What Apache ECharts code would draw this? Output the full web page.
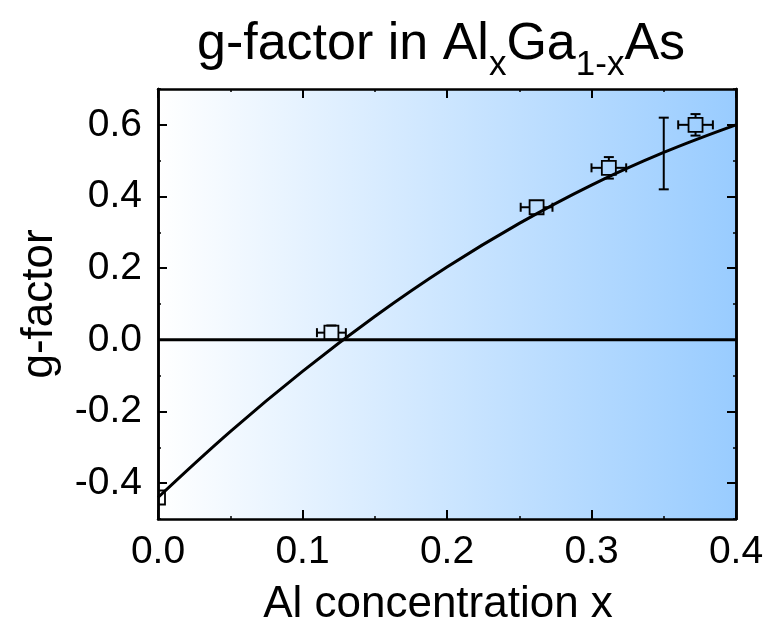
<!DOCTYPE html>
<html>
<head>
<meta charset="utf-8">
<script src="https://cdn.jsdelivr.net/npm/echarts@6/dist/echarts.min.js"></script>
<style>
  html, body { margin: 0; padding: 0; background: #ffffff; }
  #chart { width: 778px; height: 633px; }
</style>
</head>
<body>
<div id="chart"></div>
<script>
// Measured g-factor points: Al fraction, g value, x uncertainty, g uncertainty
const pointX    = [0.000, 0.120, 0.262, 0.312, 0.372];
const pointG    = [-0.44, 0.02, 0.37, 0.48, 0.60];
const pointErrX = [0.000, 0.010, 0.011, 0.012, 0.012];
const pointErrG = [0.000, 0.020, 0.010, 0.030, 0.030];

// Single value shown only as an error bar (no marker)
const barX    = [0.350];
const barG    = [0.52];
const barErrG = [0.10];

// Empirical g(x) curve read along the composition axis
const curveX = [0.00, 0.05, 0.10, 0.15, 0.20, 0.25, 0.30, 0.35, 0.40];
const curveG = [-0.44, -0.256, -0.088, 0.065, 0.203, 0.325, 0.432, 0.523, 0.600];

// Axis ranges and tick values
const xMin = 0, xMax = 0.4, xStep = 0.1;
const yMin = -0.5, yMax = 0.7;
const yMajorTicks = [-0.4, -0.2, 0.0, 0.2, 0.4, 0.6];
const yMinorTicks = [-0.5, -0.3, -0.1, 0.1, 0.3, 0.5, 0.7];

const FONT = '"Liberation Sans", Arial, sans-serif';
const INK = '#000000';

const errorData = pointX.map((x, i) => [x, pointG[i], pointErrX[i], pointErrG[i], 1])
  .concat(barX.map((x, i) => [x, barG[i], 0, barErrG[i], 0]));

const curveData = curveX.map((x, i) => [x, curveG[i]]);

function renderErrorItem(params, api) {
  const x = api.value(0), g = api.value(1);
  const ex = api.value(2), eg = api.value(3), hasMark = api.value(4);
  const c = api.coord([x, g]);
  const half = hasMark ? 7 : 0;
  const cap = 4.5;
  const st = { stroke: INK, lineWidth: 2, fill: null };
  const kids = [];
  if (ex > 0) {
    const l = api.coord([x - ex, g]), r = api.coord([x + ex, g]);
    kids.push({ type: 'line', shape: { x1: l[0], y1: c[1], x2: c[0] - half, y2: c[1] }, style: st });
    kids.push({ type: 'line', shape: { x1: c[0] + half, y1: c[1], x2: r[0], y2: c[1] }, style: st });
    kids.push({ type: 'line', shape: { x1: l[0], y1: c[1] - cap, x2: l[0], y2: c[1] + cap }, style: st });
    kids.push({ type: 'line', shape: { x1: r[0], y1: c[1] - cap, x2: r[0], y2: c[1] + cap }, style: st });
  }
  if (eg > 0) {
    const t = api.coord([x, g + eg]), b = api.coord([x, g - eg]);
    const capW = 5;
    if (t[1] < c[1] - half) {
      kids.push({ type: 'line', shape: { x1: c[0], y1: t[1], x2: c[0], y2: c[1] - half }, style: st });
      kids.push({ type: 'line', shape: { x1: c[0] - capW, y1: t[1], x2: c[0] + capW, y2: t[1] }, style: st });
    }
    if (b[1] > c[1] + half) {
      kids.push({ type: 'line', shape: { x1: c[0], y1: c[1] + half, x2: c[0], y2: b[1] }, style: st });
      kids.push({ type: 'line', shape: { x1: c[0] - capW, y1: b[1], x2: c[0] + capW, y2: b[1] }, style: st });
    }
  }
  if (hasMark) {
    kids.push({
      type: 'rect',
      shape: { x: c[0] - half, y: c[1] - half, width: 2 * half, height: 2 * half },
      style: { stroke: INK, lineWidth: 1.8, fill: null }
    });
  }
  return { type: 'group', children: kids };
}

function xAxisCfg(pos, withLabels) {
  return {
    type: 'value', position: pos, min: xMin, max: xMax, interval: xStep,
    axisLine: { show: true, onZero: false, lineStyle: { color: INK, width: 2.5 } },
    axisTick: { show: true, inside: true, length: 9, lineStyle: { color: INK, width: 2 } },
    minorTick: { show: true, splitNumber: 2, length: 3, lineStyle: { color: INK, width: 1.5 } },
    splitLine: { show: false },
    axisLabel: withLabels ? {
      show: true, color: INK, fontFamily: FONT, fontSize: 39, margin: 14,
      formatter: v => v.toFixed(1)
    } : { show: false },
    name: withLabels ? 'Al concentration x' : '',
    nameLocation: 'middle', nameGap: 64,
    nameTextStyle: { color: INK, fontFamily: FONT, fontSize: 44, padding: [0, 18, 0, 0] }
  };
}

function yAxisCfg(pos, major, withLabels) {
  return {
    type: 'value', position: pos, min: yMin, max: yMax,
    axisLine: { show: true, onZero: false, lineStyle: { color: INK, width: 2.5 } },
    axisTick: {
      show: true, inside: true, length: major ? 9 : 3,
      customValues: major ? yMajorTicks : yMinorTicks,
      lineStyle: { color: INK, width: major ? 2 : 1.5 }
    },
    splitLine: { show: false },
    axisLabel: withLabels ? {
      show: true, color: INK, fontFamily: FONT, fontSize: 39, margin: 16,
      customValues: yMajorTicks,
      formatter: v => v.toFixed(1)
    } : { show: false },
    name: withLabels ? 'g-factor' : '',
    nameLocation: 'middle', nameGap: 96, nameRotate: 90,
    nameTextStyle: { color: INK, fontFamily: FONT, fontSize: 44 }
  };
}

const chart = echarts.init(document.getElementById('chart'), null, { renderer: 'canvas' });

chart.setOption({
  animation: false,
  backgroundColor: '#ffffff',
  title: {
    left: 192, top: 10,
    text: '{m|g-factor in Al}{s|x}{m|Ga}{s|1-x}{m|As}',
    textStyle: {
      fontWeight: 'normal',
      rich: {
        m: { fontFamily: FONT, fontWeight: 'normal', fontSize: 52, color: INK, lineHeight: 60, verticalAlign: 'middle' },
        s: { fontFamily: FONT, fontWeight: 'normal', fontSize: 35, color: INK, lineHeight: 35, verticalAlign: 'bottom', padding: [0, 0, -8, 0] }
      }
    }
  },
  grid: {
    left: 158, right: 42, top: 89, bottom: 114,
    show: true, borderWidth: 0,
    backgroundColor: {
      type: 'linear', x: 0, y: 0, x2: 1, y2: 0,
      colorStops: [
        { offset: 0, color: '#ffffff' },
        { offset: 1, color: '#99ccff' }
      ]
    }
  },
  xAxis: [xAxisCfg('bottom', true), xAxisCfg('top', false)],
  yAxis: [
    yAxisCfg('left', true, true),
    yAxisCfg('left', false, false),
    yAxisCfg('right', true, false),
    yAxisCfg('right', false, false)
  ],
  series: [
    {
      name: 'zero', type: 'line', xAxisIndex: 0, yAxisIndex: 0,
      data: [[xMin, 0], [xMax, 0]], symbol: 'none', silent: true,
      lineStyle: { color: INK, width: 3 }, z: 2
    },
    {
      name: 'g(x)', type: 'line', xAxisIndex: 0, yAxisIndex: 0,
      data: curveData, smooth: 0.4, symbol: 'none', clip: true,
      lineStyle: { color: INK, width: 3 }, z: 3
    },
    {
      name: 'measured', type: 'custom', xAxisIndex: 0, yAxisIndex: 0,
      data: errorData, renderItem: renderErrorItem, clip: true, z: 4
    }
  ]
});
</script>
</body>
</html>
